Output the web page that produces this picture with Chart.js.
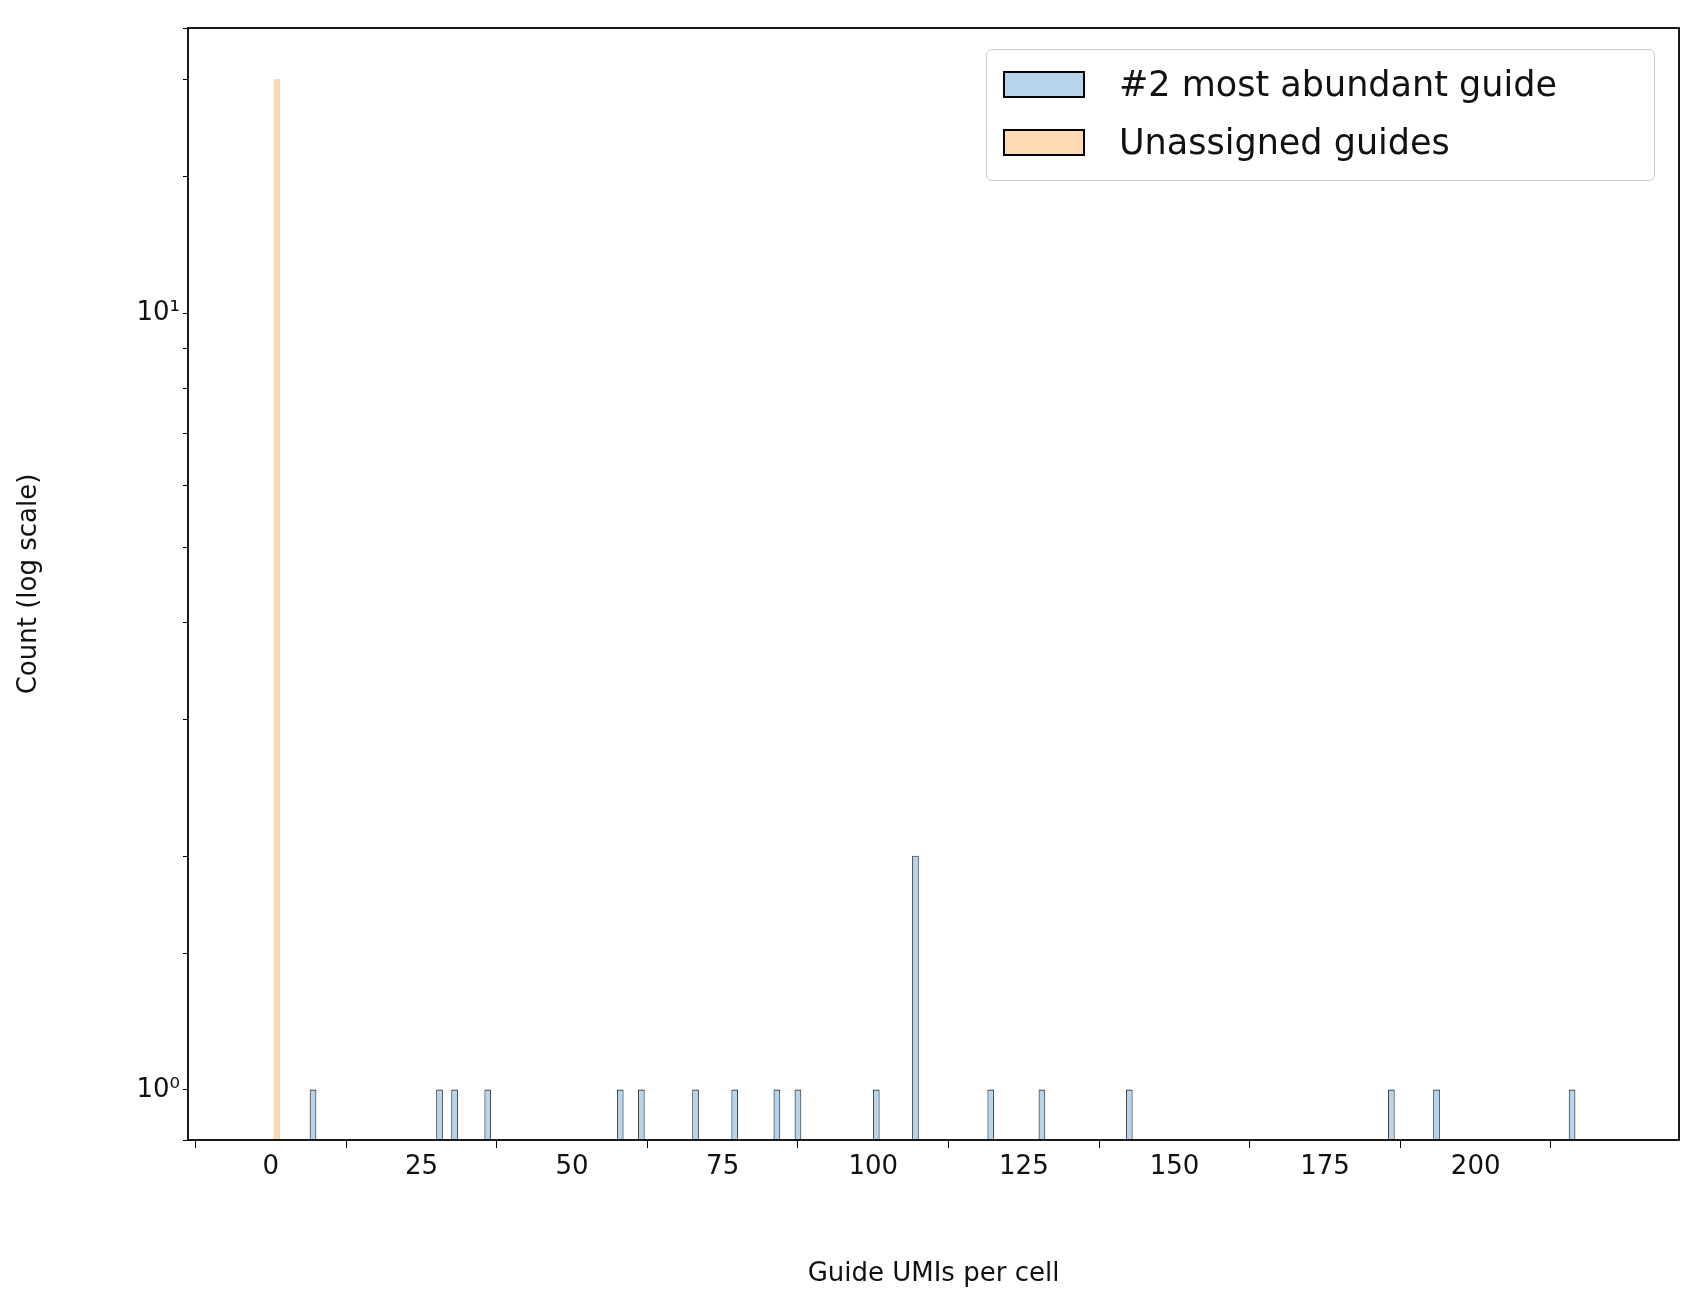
<!DOCTYPE html>
<html>
<head>
<meta charset="utf-8">
<script src="https://cdn.jsdelivr.net/npm/chart.js@4.4.1/dist/chart.umd.min.js"></script>
<style>
body{margin:0;background:#fff;font-family:"DejaVu Sans",sans-serif;}
#wrap{position:relative;width:1705px;height:1294px;}
#legend{position:absolute;left:986px;top:49px;width:669px;height:132px;border:1.5px solid #ccc;border-radius:6px;background:rgba(255,255,255,0.8);box-sizing:border-box;font-size:35px;color:#111;}
.item{position:absolute;left:16px;display:flex;align-items:center;}
.sw{width:82px;height:27px;border:2px solid #000;box-sizing:border-box;margin-right:34px;}
</style>
</head>
<body>
<div id="wrap">
<canvas id="c" width="1705" height="1294"></canvas>
<div id="legend">
 <div class="item" style="top:14px"><div class="sw" style="background:#b8d4ea"></div>#2 most abundant guide</div>
 <div class="item" style="top:72px"><div class="sw" style="background:#ffd8b4"></div>Unassigned guides</div>
</div>
</div>
<script>
// ================================
// HISTOGRAM DATA (bin start, count)
// ================================
const secondGuideBins = [7, 28, 30.5, 36, 58, 61.5, 70.5, 77, 84, 87.5, 100.5, 107, 119.5, 128, 142.5, 186, 193.5, 216];
const secondGuideCounts = [1,1,1,1,1,1,1,1,1,1,1,2,1,1,1,1,1,1];
const unassignedBins = [0];
const unassignedCounts = [20];
const xTicks = [0,25,50,75,100,125,150,175,200];

const toPts = (bins, counts) => bins.map((b, i) => ({x: b + 0.5, y: counts[i]}));

const boxPlugin = {
  id: 'box',
  afterDraw(chart) {
    const a = chart.chartArea, ctx = chart.ctx;
    ctx.save();
    ctx.strokeStyle = '#000';
    ctx.lineWidth = 1.8;
    ctx.strokeRect(a.left, a.top, a.right - a.left, a.bottom - a.top);
    ctx.restore();
  }
};

new Chart(document.getElementById('c'), {
  type: 'bar',
  data: {
    datasets: [{
      label: '#2 most abundant guide',
      data: toPts(secondGuideBins, secondGuideCounts),
      backgroundColor: '#b8d4ea',
      borderColor: '#222',
      borderWidth: 0.8,
      barThickness: 6
    }, {
      label: 'Unassigned guides',
      data: toPts(unassignedBins, unassignedCounts),
      backgroundColor: '#ffd8b4',
      borderColor: '#e8c8a8',
      borderWidth: 0.6,
      barThickness: 6
    }]
  },
  options: {
    responsive: false,
    animation: false,
    layout: {padding: {top: 28, right: 26, left: 10}},
    plugins: {legend: {display: false}, tooltip: {enabled: false}},
    scales: {
      x: {
        type: 'linear', min: 0, max: 220, stacked: false,
        afterBuildTicks: s => { s.ticks = xTicks.map(v => ({value: v})); },
        afterFit: s => { s.height = 154; },
        grid: {drawOnChartArea: false, tickColor: '#000', tickLength: 8},
        border: {display: false},
        ticks: {color: '#111', font: {size: 26, family: 'DejaVu Sans'}, padding: 4},
        title: {display: true, text: 'Guide UMIs per cell', color: '#111', font: {size: 26, family: 'DejaVu Sans'}}
      },
      y: {
        type: 'logarithmic', min: 0.862, max: 23.3,
        afterFit: s => { s.width = 178; },
        grid: {drawOnChartArea: false, tickColor: '#000', tickLength: 5},
        border: {display: false},
        ticks: {
          color: '#111', font: {size: 26, family: 'DejaVu Sans'}, autoSkip: false,
          callback: v => v === 1 ? '10⁰' : (v === 10 ? '10¹' : '')
        },
        title: {display: true, text: 'Count (log scale)', color: '#111', font: {size: 26, family: 'DejaVu Sans'}}
      }
    }
  },
  plugins: [boxPlugin]
});
</script>
</body>
</html>
